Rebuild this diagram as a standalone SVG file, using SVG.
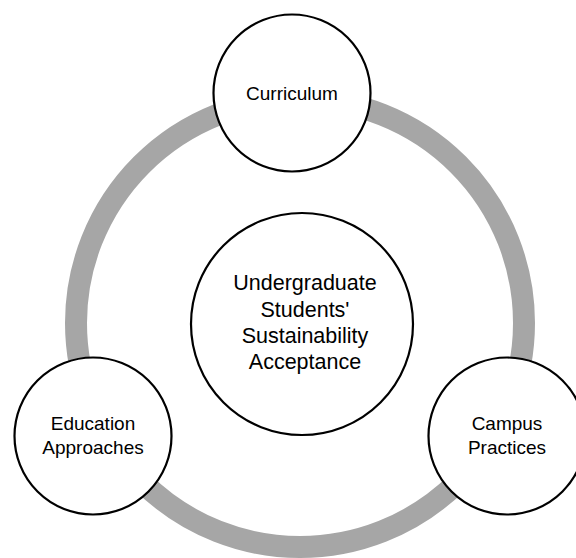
<svg xmlns="http://www.w3.org/2000/svg" width="576" height="558" viewBox="0 0 576 558">
<style>
.node{fill:#fff;stroke:#000;stroke-width:2.2}
.ring{fill:none;stroke:#a6a6a6;stroke-width:22}
.t{font-family:"Liberation Sans",Arial,sans-serif;fill:#000;text-anchor:middle}
.s{font-size:19px}
.c{font-size:21.5px}
</style>
<rect width="576" height="558" fill="#fff"/>
<g id="connectors">
<circle class="ring" cx="300" cy="323" r="224"/>
</g>
<g id="center">
<circle class="node" cx="302" cy="324" r="111"/>
<text class="t c" x="305" y="290">Undergraduate</text>
<text class="t c" x="305" y="316.5">Students'</text>
<text class="t c" x="305" y="342.5">Sustainability</text>
<text class="t c" x="305" y="368.5">Acceptance</text>
</g>
<g id="curriculum">
<circle class="node" cx="292" cy="93" r="78.5"/>
<text class="t s" x="292" y="100">Curriculum</text>
</g>
<g id="education">
<circle class="node" cx="93" cy="436" r="78.5"/>
<text class="t s" x="93" y="430">Education</text>
<text class="t s" x="93" y="454">Approaches</text>
</g>
<g id="campus">
<circle class="node" cx="507" cy="436" r="78.5"/>
<text class="t s" x="507" y="430">Campus</text>
<text class="t s" x="507" y="454">Practices</text>
</g>
</svg>
